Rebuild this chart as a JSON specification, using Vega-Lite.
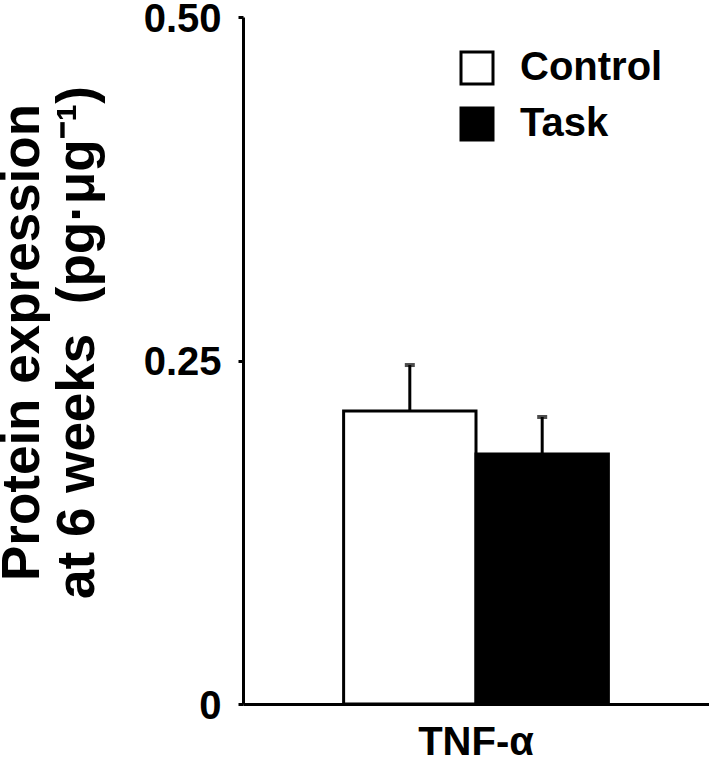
{
  "$schema": "https://vega.github.io/schema/vega-lite/v6.json",
  "width": 466,
  "height": 687,
  "autosize": {"type": "none"},
  "padding": {"left": 243, "top": 17, "right": 0, "bottom": 56},
  "background": "white",
  "config": {
    "view": {"stroke": null},
    "font": "Liberation Sans",
    "axis": {"grid": false, "domainColor": "black", "tickColor": "black", "labelColor": "black", "titleColor": "black"}
  },
  "data": {
    "values": [
      {"cytokine": "TNF-α", "group": "Control", "value": 0.2132, "upper": 0.2467},
      {"cytokine": "TNF-α", "group": "Task", "value": 0.182, "upper": 0.2089}
    ]
  },
  "encoding": {
    "x": {
      "field": "cytokine",
      "type": "nominal",
      "scale": {"paddingInner": 0, "paddingOuter": 0.38},
      "axis": {
        "title": null,
        "labelAngle": 0,
        "ticks": false,
        "domainWidth": 3,
        "labelFont": "Liberation Sans",
        "labelFontWeight": "bold",
        "labelFontSize": 40,
        "labelPadding": 18
      }
    },
    "xOffset": {"field": "group", "type": "nominal", "scale": {"paddingInner": 0, "paddingOuter": 0}}
  },
  "layer": [
    {
      "mark": {"type": "bar", "stroke": "black", "strokeWidth": 3, "strokeJoin": "miter"},
      "encoding": {
        "y": {
          "field": "value",
          "type": "quantitative",
          "scale": {"domain": [0, 0.5], "nice": false},
          "axis": {
            "values": [0, 0.25, 0.5],
            "labelExpr": "datum.value == 0 ? '0' : format(datum.value, '.2f')",
            "domainWidth": 3,
            "tickWidth": 3,
            "tickSize": 5,
            "labelFont": "Liberation Sans",
            "labelFontWeight": "bold",
            "labelFontSize": 40,
            "labelPadding": 17,
            "labelOffset": 2,
            "title": ["Protein expression", "at 6 weeks\u00a0\u00a0(pg·μg⁻¹)"],
            "titleFont": "Liberation Sans",
            "titleFontWeight": "bold",
            "titleFontSize": 53,
            "titleLineHeight": 55,
            "titleAngle": -90,
            "titleAlign": "center",
            "titleBaseline": "alphabetic",
            "titleX": -205,
            "titleY": 325
          }
        },
        "fill": {
          "field": "group",
          "type": "nominal",
          "scale": {"domain": ["Control", "Task"], "range": ["white", "black"]},
          "legend": {
            "title": null,
            "orient": "none",
            "legendX": 214,
            "legendY": 31,
            "padding": 0,
            "symbolType": "square",
            "symbolSize": 1024,
            "symbolStrokeColor": "black",
            "symbolStrokeWidth": 3,
            "labelFont": "Liberation Sans",
            "labelFontWeight": "bold",
            "labelFontSize": 40,
            "labelColor": "black",
            "labelOffset": 23,
            "rowPadding": 12
          }
        }
      }
    },
    {
      "mark": {"type": "rule", "color": "black", "strokeWidth": 3},
      "encoding": {
        "y": {"field": "value", "type": "quantitative"},
        "y2": {"field": "upper"}
      }
    },
    {
      "mark": {"type": "tick", "color": "black", "size": 10, "thickness": 4, "orient": "horizontal"},
      "encoding": {
        "y": {"field": "upper", "type": "quantitative"}
      }
    }
  ]
}
